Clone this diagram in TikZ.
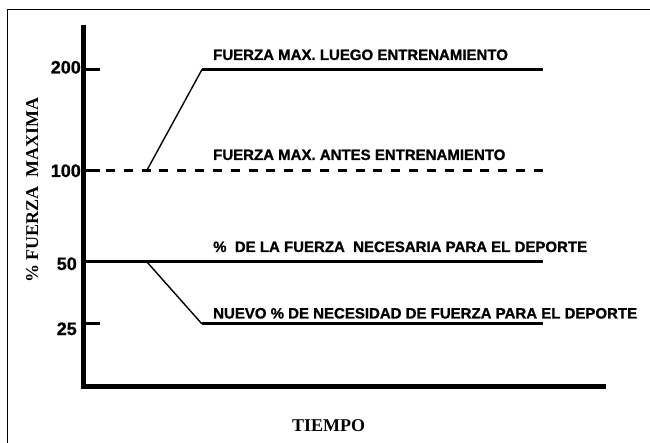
\documentclass[tikz,border=0pt]{standalone}
\usepackage{fontspec}
\setmainfont{Liberation Serif}
\setsansfont{Liberation Sans}[BoldFeatures={FakeBold=1}]
\usepackage{tikz}

\begin{document}
\begin{tikzpicture}[x=1pt,y=-1pt,
  axis/.style={line width=5pt},
  level/.style={line width=3pt},
  slope/.style={line width=1.4pt},
  lbl/.style={anchor=base west,inner sep=0pt,font=\sffamily\bfseries\fontsize{15}{18}\selectfont},
  val/.style={anchor=base east,inner sep=0pt,font=\sffamily\bfseries\fontsize{18}{21}\selectfont},
  ttl/.style={anchor=base,inner sep=0pt,font=\rmfamily\bfseries\fontsize{18}{21}\selectfont}]
\useasboundingbox (0,0) rectangle (650,443);

% Frame
\draw[line width=1pt] (7,443) -- (7,10) -- (650,10);

% Axes
\coordinate (top) at (83.5,25);
\coordinate (o) at (83.5,386.5);
\coordinate (end) at (606,386.5);
\draw[axis] (top) -- (o) -- (end);

% Ticks and values
\foreach \v/\y/\b/\r in {200/69.5/73.5/81,100/171/177/81,50/262/270/77,25/324/335/77}
{
  \coordinate (t\v) at (86,\y);
  \coordinate (s\v) at (100,\y);
  \draw[level] (t\v) -- (s\v);
  \node[val] (v\v) at (\r,\b) {\v};
}

% Force levels
\coordinate (a1) at (146.5,171);
\coordinate (a2) at (202,69.5);
\coordinate (a3) at (543,69.5);
\coordinate (d1) at (106,171);
\coordinate (d2) at (543,171);
\coordinate (n1) at (147,262);
\coordinate (n2) at (543,262);
\coordinate (m1) at (202,324);
\coordinate (m2) at (543,324);
\draw[slope] (a1) -- (a2);
\draw[level] (a2) -- (a3);
\draw[level,dash pattern=on 9pt off 8.83pt] (d1) -- (d2);
\draw[level] (s50) -- (n2);
\draw[slope] (n1) -- (m1);
\draw[level] (m1) -- (m2);

% Labels
\node[lbl] (luego) at (213,60) {FUERZA MAX. LUEGO ENTRENAMIENTO};
\node[lbl] (antes) at (213,160) {FUERZA MAX. ANTES ENTRENAMIENTO};
\node[lbl] (deporte) at (213,252) {\%\ \ DE LA FUERZA\ \ NECESARIA PARA EL DEPORTE};
\node[lbl] (nuevo) at (213,318.5) {NUEVO \% DE NECESIDAD DE FUERZA PARA EL DEPORTE};

% Axis titles
\node[ttl,rotate=90] (ylab) at (38,190) {\%\ FUERZA\ \ MAXIMA};
\node[ttl] (xlab) at (328.5,431.5) {TIEMPO};
\end{tikzpicture}
\end{document}
